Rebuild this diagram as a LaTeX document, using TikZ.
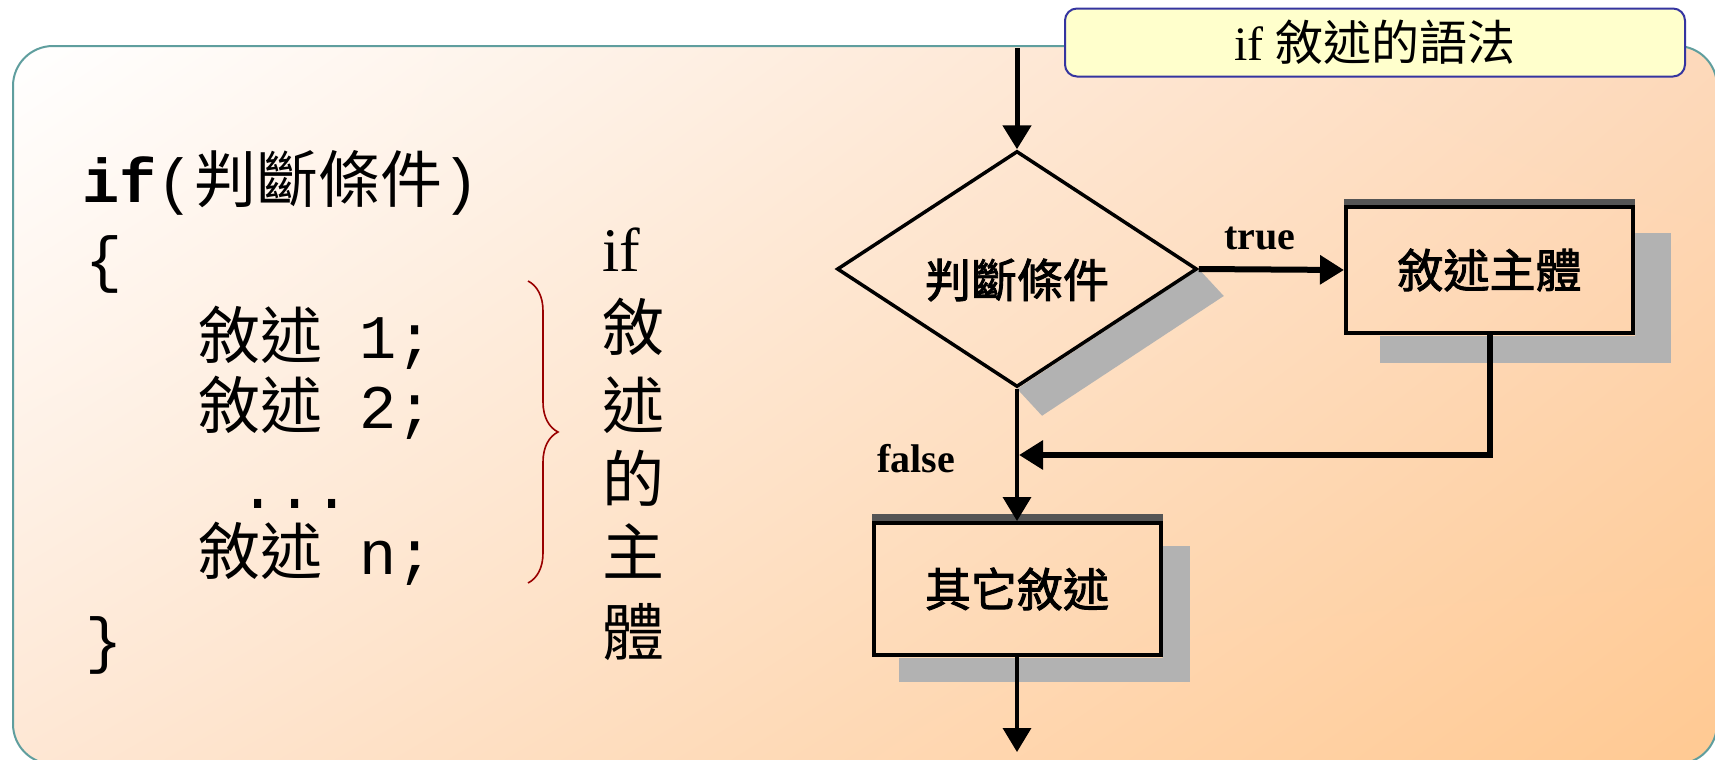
\documentclass[tikz,border=0pt]{standalone}
\usepackage{fontspec}
\setmainfont{Liberation Serif}
\setmonofont{Liberation Mono}
\newfontfamily\cjk{Noto Sans CJK TC}
\newfontfamily\cjkb[FakeBold=2]{Noto Sans CJK TC}
\usetikzlibrary{shapes.geometric,arrows.meta,calc,decorations.pathreplacing,shadings}
\definecolor{cUL}{HTML}{FFFFFF}
\definecolor{cUR}{HTML}{FDD9BB}
\definecolor{cLL}{HTML}{FEE7D4}
\definecolor{cLR}{HTML}{FFC992}
\definecolor{framec}{HTML}{5F9E9E}
\definecolor{titlefill}{HTML}{FFFFCC}
\definecolor{titledraw}{HTML}{3535A0}
\definecolor{shadowc}{HTML}{B2B2B2}
\definecolor{barc}{HTML}{555555}
\definecolor{bracec}{HTML}{990000}
\pgfdeclarelayer{bglayer}
\pgfdeclarelayer{shadowlayer}
\pgfdeclarelayer{refilllayer}
\pgfsetlayers{bglayer,shadowlayer,refilllayer,main}
\newcommand{\bgfill}{\shade[bgshade] (13,46) rectangle (1717,764);}
\begin{document}
\begin{tikzpicture}[x={(0.5pt,0)}, y={(0,-0.5pt)},
  bgshade/.style={upper left=cUL, upper right=cUR, lower left=cLL, lower right=cLR},
  code/.style={anchor=base west, inner sep=0, font=\fontsize{31pt}{31pt}\selectfont},
  vt/.style={anchor=base, inner sep=0, font=\fontsize{31pt}{31pt}\selectfont},
  diam/.style={diamond, draw=black, line width=1.75pt, minimum width=180pt, minimum height=118pt, inner sep=0},
  fbox/.style={rectangle, draw=black, line width=2pt, minimum width=143.5pt, inner sep=0,
    font=\cjkb\fontsize{23pt}{23pt}\selectfont},
  dtext/.style={inner sep=0, font=\cjkb\fontsize{23pt}{23pt}\selectfont},
  lab/.style={inner sep=0, font=\bfseries\fontsize{20pt}{20pt}\selectfont},
  arr/.style={draw=black, -{Triangle[length=12pt,width=14pt]}},
  thinconn/.style={arr, line width=1.75pt},
  thickconn/.style={arr, line width=3pt},
  topbar/.style={fill=barc},
  titlebox/.style={rectangle, rounded corners=6pt, fill=titlefill, draw=titledraw, line width=1pt,
    minimum width=310pt, minimum height=34pt, inner sep=0, font=\fontsize{24pt}{24pt}\selectfont}
]
\useasboundingbox (0,0) rectangle (1715,760);

% background frame
\begin{pgfonlayer}{bglayer}
  \fill[white] (0,0) rectangle (1715,760);
  \shade[bgshade, rounded corners=20pt] (13,46) rectangle (1717,764);
\end{pgfonlayer}
\draw[framec, line width=1pt, rounded corners=20pt] (13,46) rectangle (1717,764);

% title
\node[titlebox] (title) at (1375,42.5) {if {\cjk 敘述的語法}};

% code on the left
\node[code] (l1) at (82,202) {\ttfamily\bfseries if\mdseries(\cjk 判斷條件\ttfamily)};
\node[code] (l2) at (85,280) {\ttfamily\{};
\node[code] (l3) at (198,358) {\cjk 敘述\ttfamily\ 1;};
\node[code] (l4) at (198,428) {\cjk 敘述\ttfamily\ 2;};
\node[code] (l5) at (239,508) {\ttfamily...};
\node[code] (l6) at (198,574) {\cjk 敘述\ttfamily\ n;};
\node[code] (l7) at (85,661) {\ttfamily\}};

% brace
\coordinate (bt) at (528,281);
\coordinate (bb) at (528,583);
\draw[bracec, line width=0.8pt, decorate, decoration={brace, amplitude=15pt}] (bt) -- (bb);

% vertical label
\node[vt] (v0) at (621,271) {if};
\node[vt] (v1) at (633,350) {\cjk 敘};
\node[vt] (v2) at (633,428) {\cjk 述};
\node[vt] (v3) at (633,502) {\cjk 的};
\node[vt] (v4) at (633,575) {\cjk 主};
\node[vt] (v5) at (633,655) {\cjk 體};

% flowchart
\node[diam] (dm) at (1017,269) {};
\node[dtext] (dt) at (1017,280) {判斷條件};
\node[fbox, minimum height=63pt] (b1) at (1489.5,270) {敘述主體};
\node[fbox, minimum height=66pt] (b2) at (1017,589) {其它敘述};

\fill[topbar] ($(b1.north west)+(0,-6)$) rectangle (b1.north east);
\fill[topbar] ($(b2.north west)+(0,-7)$) rectangle (b2.north east);

\begin{pgfonlayer}{shadowlayer}
  \fill[shadowc] (dm.east) -- ($(dm.east)+(25,27)$) -- ($(dm.south)+(25,27)$) -- (dm.south) -- cycle;
  \fill[shadowc] ($(b1.south west)+(36,28)$) rectangle ($(b1.north east)+(36,28)$);
  \fill[shadowc] ($(b2.south west)+(27,25)$) rectangle ($(b2.north east)+(27,25)$);
\end{pgfonlayer}
\begin{pgfonlayer}{refilllayer}
  \begin{scope}
    \clip (dm.north) -- (dm.east) -- (dm.south) -- (dm.west) -- cycle;
    \bgfill
  \end{scope}
  \begin{scope}
    \clip (b1.south west) rectangle (b1.north east);
    \bgfill
  \end{scope}
  \begin{scope}
    \clip (b2.south west) rectangle (b2.north east);
    \bgfill
  \end{scope}
\end{pgfonlayer}

\coordinate (start) at (1017,48);
\coordinate (m) at (1019,455);
\coordinate (end) at (1017,752);

\draw[arr, line width=2.5pt] (start) -- (dm.north);
\draw[thinconn] (dm.south) -- (b2.north);
\draw[thickconn] (dm.east) -- (b1.west);
\draw[thickconn] (b1.south) |- (m);
\draw[thinconn] (b2.south) -- (end);

\node[lab] (tl) at (1260,238) {true};
\node[lab] (fl) at (916,459) {false};
\end{tikzpicture}
\end{document}
